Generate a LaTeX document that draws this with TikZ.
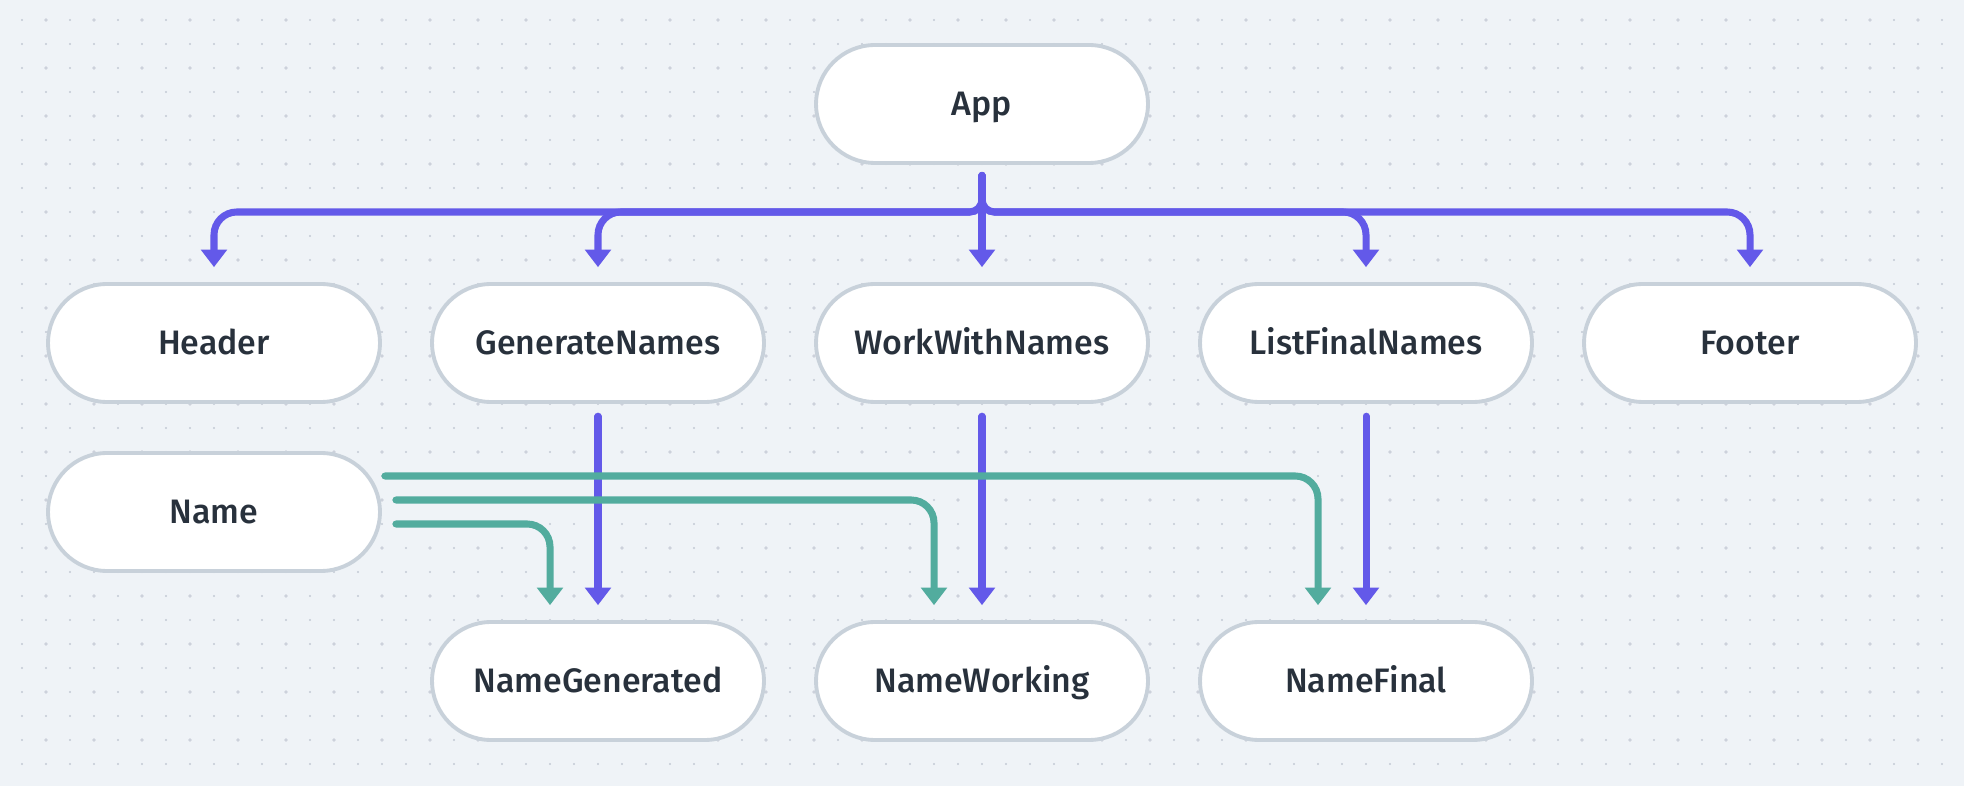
\documentclass[tikz,border=0pt]{standalone}
\usepackage{fontspec}
\setmainfont{Fira Sans Medium}
\usetikzlibrary{arrows.meta,positioning,calc}

\definecolor{bgcol}{HTML}{EFF3F7}
\definecolor{dotcol}{HTML}{C3C9D4}
\definecolor{boxline}{HTML}{C8D1DA}
\definecolor{textcol}{HTML}{28313C}
\definecolor{purp}{HTML}{6359E9}
\definecolor{grn}{HTML}{52AC9E}

\begin{document}
\begin{tikzpicture}[x=0.02cm,y=-0.02cm,
  box/.style={draw=boxline,line width=2.2pt,fill=white,rounded corners=1.18cm,
    minimum width=6.64cm,minimum height=2.36cm,text=textcol,
    text height=13.4pt,text depth=0pt,
    font=\fontsize{19.3pt}{23pt}\selectfont},
  pline/.style={purp,line width=4pt,line cap=round,rounded corners=13pt,
    -{Triangle[width=14.5pt,length=10pt]},shorten <=6pt,shorten >=8.5pt},
  gline/.style={grn,line width=4pt,line cap=round,rounded corners=13pt,
    -{Triangle[width=14.5pt,length=10pt]},shorten >=8.5pt}]

\useasboundingbox[fill=bgcol] (0,0) rectangle (1964,786);

% dot grid
\foreach \i in {0,...,80}
  \foreach \j in {0,...,31}
    \fill[dotcol] (22+24*\i,20+24*\j) circle (0.6pt);
\foreach \i in {0,...,39}
  \foreach \j in {0,...,15}
    \fill[dotcol!80!bgcol] (46+48*\i,20+48*\j) circle (1.1pt);

% components
\node[box] (app) at (982,104) {App};

\node[box] (header) at (214,343) {Header};
\node[box] (gen) at (598,343) {GenerateNames};
\node[box] (work) at (982,343) {WorkWithNames};
\node[box] (list) at (1366,343) {ListFinalNames};
\node[box] (footer) at (1750,343) {Footer};

\node[box] (name) at (214,512) {Name};

\node[box] (ngen) at (598,681) {NameGenerated};
\node[box] (nwork) at (982,681) {NameWorking};
\node[box] (nfinal) at (1366,681) {NameFinal};

% App -> children
\coordinate (bus) at (982,212);
\draw[pline] (app.south) -- (work.north);
\foreach \c in {header,gen,list,footer}
  \draw[pline,rounded corners=7pt] (app.south) -- (bus)
    [rounded corners=13pt] -- (bus -| \c.north) -- (\c.north);

% parents -> name variants
\draw[pline,shorten <=7pt] (gen.south) -- (ngen.north);
\draw[pline,shorten <=7pt] (work.south) -- (nwork.north);
\draw[pline,shorten <=7pt] (list.south) -- (nfinal.north);

% Name -> name variants
\coordinate (n1) at ([shift={(3,-36)}]name.east);
\coordinate (n2) at ([shift={(14,-12)}]name.east);
\coordinate (n3) at ([shift={(14,12)}]name.east);
\draw[gline] (n1) -| ([xshift=-0.96cm]nfinal.north);
\draw[gline] (n2) -| ([xshift=-0.96cm]nwork.north);
\draw[gline] (n3) -| ([xshift=-0.96cm]ngen.north);

\end{tikzpicture}
\end{document}
